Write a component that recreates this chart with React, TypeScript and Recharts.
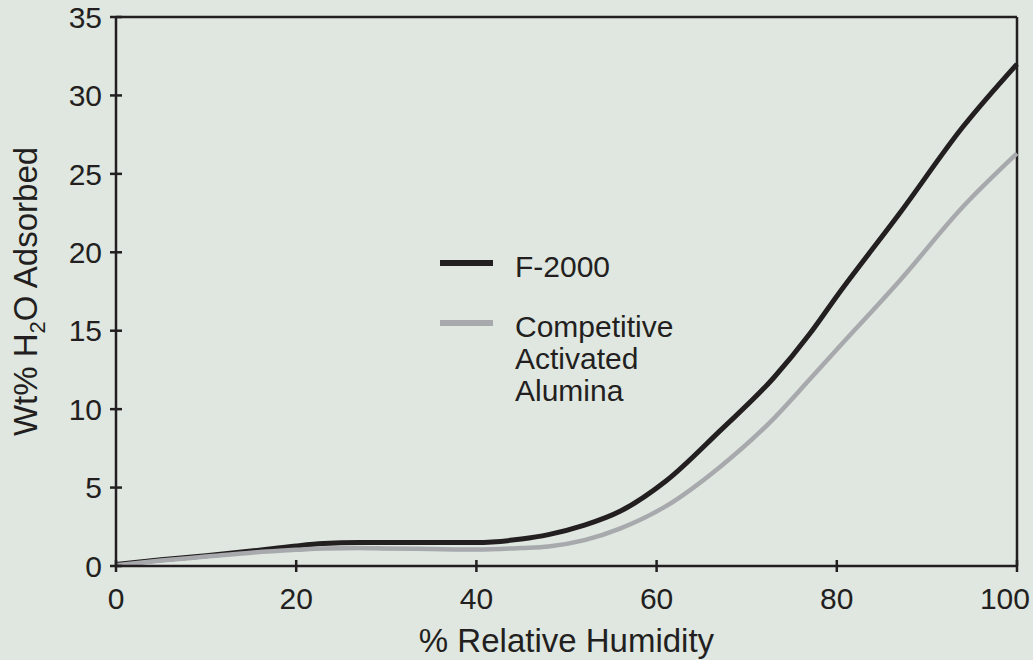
import { LineChart, Line, XAxis, YAxis, ReferenceLine } from "recharts";

const humidity = [0, 5, 10, 15, 20, 23, 27, 30, 35, 40, 45, 48, 52, 56, 61, 67, 73, 77, 80, 87, 94, 100];
const f2000 = [0.1, 0.4, 0.65, 0.95, 1.28, 1.43, 1.5, 1.5, 1.5, 1.5, 1.72, 2.0, 2.6, 3.5, 5.4, 8.6, 12.0, 14.8, 17.2, 22.5, 28.0, 32.0];
const competitive = [0.05, 0.35, 0.6, 0.85, 1.03, 1.12, 1.15, 1.12, 1.08, 1.05, 1.15, 1.25, 1.65, 2.4, 3.8, 6.3, 9.4, 11.9, 13.8, 18.2, 22.9, 26.3];
const xTicks = [0, 20, 40, 60, 80, 100];
const yTicks = [0, 5, 10, 15, 20, 25, 30, 35];

const data = humidity.map((h, i) => ({ rh: h, f2000: f2000[i], competitive: competitive[i] }));

const INK = "#231f20";
const GRAY = "#a7a9ac";
const BG = "#dfe7e0";
const FONT = "'Liberation Sans', Arial, Helvetica, sans-serif";

const series = [
  { key: "f2000", name: "F-2000", color: INK, width: 5 },
  { key: "competitive", name: "Competitive\nActivated\nAlumina", color: GRAY, width: 4.5 }
];

function YTick({ x, y, payload }: any) {
  const ax = x + 14;
  return (
    <g>
      <line x1={ax - 6} x2={ax + 6} y1={y} y2={y} stroke={INK} strokeWidth={2.5} />
      <text x={x} y={y} dy="0.355em" textAnchor="end" fill={INK} fontSize={30} fontFamily={FONT}>
        {payload.value}
      </text>
    </g>
  );
}

function XTick({ x, y, payload }: any) {
  const ay = y - 22;
  const last = payload.value === xTicks[xTicks.length - 1];
  return (
    <g>
      <line x1={x} x2={x} y1={ay - 6} y2={ay + 6} stroke={INK} strokeWidth={2.5} />
      <text
        x={last ? x + 13 : x}
        y={y}
        dy="0.71em"
        textAnchor={last ? "end" : "middle"}
        fill={INK}
        fontSize={30}
        fontFamily={FONT}
      >
        {payload.value}
      </text>
    </g>
  );
}

function YLabel({ viewBox }: any) {
  const cy = viewBox.y + viewBox.height / 2;
  const bx = 37;
  return (
    <text
      x={bx}
      y={cy}
      transform={`rotate(-90, ${bx}, ${cy})`}
      textAnchor="middle"
      fill={INK}
      fontSize={33}
      fontFamily={FONT}
    >
      Wt% H
      <tspan fontSize={22} dy={8}>2</tspan>
      <tspan dy={-8}>O Adsorbed</tspan>
    </text>
  );
}

function LegendBox() {
  return (
    <div
      style={{
        position: "absolute",
        left: 440,
        top: 251,
        fontFamily: FONT,
        fontSize: 30,
        color: INK,
        lineHeight: "32px"
      }}
    >
      {series.map((s) => (
        <div key={s.key} style={{ position: "relative", paddingLeft: 75, marginBottom: 28, whiteSpace: "pre-line" }}>
          <span
            style={{ position: "absolute", left: 0, top: 9, width: 53, height: 6, background: s.color }}
          />
          {s.name}
        </div>
      ))}
    </div>
  );
}

export default function App() {
  return (
    <div style={{ position: "absolute", left: 0, top: 0, width: 1033, height: 660, background: BG }}>
      <LineChart width={1033} height={660} data={data} margin={{ top: 17, right: 16, left: 0, bottom: 0 }}>
        <XAxis
          dataKey="rh"
          type="number"
          domain={[0, 100]}
          ticks={xTicks}
          height={94}
          tickSize={6}
          tickMargin={16}
          tickLine={false}
          tick={<XTick />}
          axisLine={{ stroke: INK, strokeWidth: 2.5 }}
          label={{ value: "% Relative Humidity", position: "insideBottom", offset: 8, fill: INK, fontSize: 33, fontFamily: FONT }}
        />
        <YAxis
          type="number"
          domain={[0, 35]}
          ticks={yTicks}
          width={116}
          tickSize={6}
          tickMargin={8}
          tickLine={false}
          tick={<YTick />}
          axisLine={{ stroke: INK, strokeWidth: 2.5 }}
          label={<YLabel />}
        />
        <ReferenceLine y={35} stroke={INK} strokeWidth={2.5} />
        <ReferenceLine x={100} stroke={INK} strokeWidth={2.5} />
        {series.map((s) => (
          <Line
            key={s.key}
            type="monotone"
            dataKey={s.key}
            name={s.name}
            stroke={s.color}
            strokeWidth={s.width}
            dot={false}
            isAnimationActive={false}
          />
        ))}
      </LineChart>
      <LegendBox />
    </div>
  );
}
